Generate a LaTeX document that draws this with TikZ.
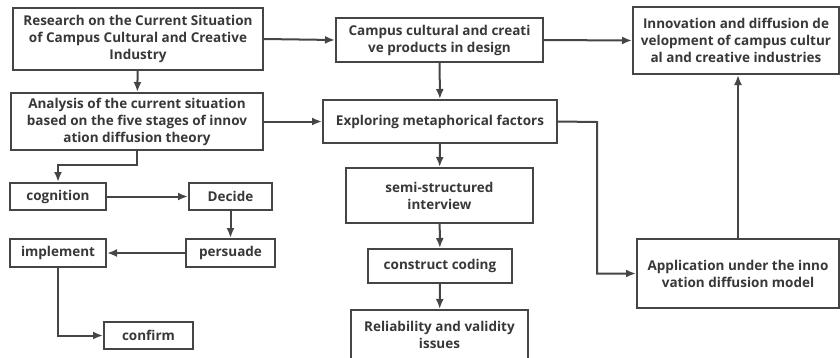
\documentclass[tikz,border=0pt]{standalone}
\usepackage{fontspec}
\setmainfont{Open Sans}
\usetikzlibrary{arrows.meta}
\definecolor{ln}{HTML}{454545}
\definecolor{tx}{HTML}{383838}
\tikzset{
  box/.style={draw=ln, line width=2pt, fill=white, align=center, inner sep=0pt,
    text=tx, font=\fontsize{13.5}{17}\selectfont\bfseries},
  conn/.style={draw=ln, line width=2pt, -{Latex[length=10pt,width=8pt]}},
  plain/.style={draw=ln, line width=2pt}
}
\begin{document}
\begin{tikzpicture}[x=1pt,y=-1pt]
\useasboundingbox (0,0) rectangle (840,357);
\node[box, minimum width=250, minimum height=62] (res) at (138,39) {Research on the Current Situation\\of Campus Cultural and Creative\\Industry};
\node[box, minimum width=252, minimum height=57] (ana) at (137,121.5) {Analysis of the current situation\\based on the five stages of innov\\ation diffusion theory};
\node[box, minimum width=96, minimum height=27] (cog) at (58,196.5) {cognition};
\node[box, minimum width=83, minimum height=27] (dec) at (230.5,196.5) {Decide};
\node[box, minimum width=89, minimum height=28] (per) at (230.5,253) {persuade};
\node[box, minimum width=96, minimum height=28] (imp) at (58,253) {implement};
\node[box, minimum width=89, minimum height=27] (con) at (148.5,335.5) {confirm};
\node[box, minimum width=207, minimum height=44] (cam) at (439.5,40) {Campus cultural and creati\\ve products in design};
\node[box, minimum width=234, minimum height=43] (exp) at (440,121.5) {Exploring metaphorical factors};
\node[box, minimum width=187, minimum height=55] (semi) at (439.5,195.5) {semi-structured\\interview};
\node[box, minimum width=144, minimum height=34] (cc) at (440,266) {construct coding};
\node[box, minimum width=177, minimum height=50] (rel) at (439.5,335) {Reliability and validity\\issues};
\node[box, minimum width=206, minimum height=67] (inn) at (736,40.5) {Innovation and diffusion de\\velopment of campus cultur\\al and creative industries};
\node[box, minimum width=202, minimum height=69] (app) at (738,273.5) {Application under the inno\\vation diffusion model};
\coordinate (k1) at (58,165);
\coordinate (k2) at (597,122);
\draw[conn] (res) -- (ana);
\draw[conn] (res.east) -- (cam.west);
\draw[conn] (cam.east) -- (inn.west);
\draw[conn] (ana.east) -- (exp.west);
\draw[conn] (ana.south) |- (k1) -- (cog.north);
\draw[conn] (cog) -- (dec);
\draw[conn] (dec) -- (per);
\draw[conn] (per) -- (imp);
\draw[conn] (imp.south) |- (con.west);
\draw[conn] (cam) -- (exp);
\draw[conn] (exp) -- (semi);
\draw[conn] (semi) -- (cc);
\draw[conn] (cc) -- (rel);
\draw[conn] (exp.east) -- (k2) |- (app.west);
\draw[conn] (app.north) -- (app.north |- inn.south);
\end{tikzpicture}
\end{document}
